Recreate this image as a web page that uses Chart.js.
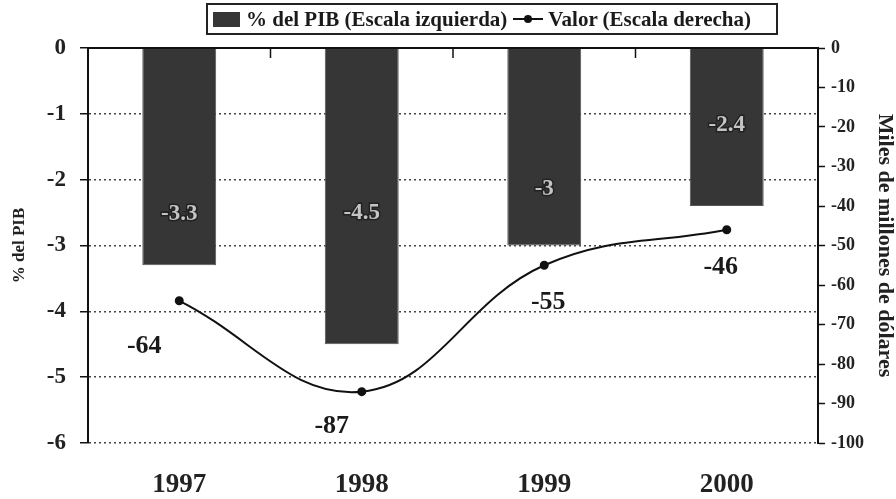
<!DOCTYPE html>
<html>
<head>
<meta charset="utf-8">
<script src="https://cdn.jsdelivr.net/npm/chart.js@4"></script>
<style>
  body { margin: 0; background: #fff; }
  #wrap { position: relative; width: 896px; height: 499px; }
  #legend {
    position: absolute; left: 206px; top: 3px; width: 572px; height: 32px;
    box-sizing: border-box; border: 2px solid #222; padding-left: 5px;
    display: flex; align-items: center; justify-content: flex-start;
    font: bold 21px "Liberation Serif", serif; color: #1a1a1a; white-space: nowrap;
  }
  .sq { display: inline-block; width: 27px; height: 15px; background: #363636; margin-right: 6px; }
  .ln { display: inline-block; width: 30px; height: 10px; margin: 0 5px 0 6px; position: relative; }
  .ln:before { content: ""; position: absolute; left: 0; right: 0; top: 4px; height: 2px; background: #111; }
  .ln:after { content: ""; position: absolute; left: 11px; top: 1px; width: 8px; height: 8px; border-radius: 50%; background: #111; }
</style>
</head>
<body>
<div id="wrap">
  <canvas id="chart" width="896" height="499"></canvas>
  <div id="legend"><span class="sq"></span>% del PIB (Escala izquierda)<span class="ln"></span>Valor (Escala derecha)</div>
</div>
<script>
// datos
const years = ["1997", "1998", "1999", "2000"];
const pibPct = [-3.3, -4.5, -3, -2.4];       // % del PIB, escala izquierda
const valor = [-64, -87, -55, -46];          // miles de millones, escala derecha
const leftTicks = [0, -1, -2, -3, -4, -5, -6];
const rightTicks = [0, -10, -20, -30, -40, -50, -60, -70, -80, -90, -100];

const serif = "'Liberation Serif', 'Times New Roman', serif";

// etiquetas y detalles que Chart.js no dibuja solo
const extras = {
  id: "extras",
  afterDatasetsDraw(chart) {
    const ctx = chart.ctx;
    const y = chart.scales.y;
    const x = chart.scales.x;
    const area = chart.chartArea;

    // linea superior solida y marcas de categoria
    ctx.save();
    ctx.strokeStyle = "#111";
    ctx.lineWidth = 2;
    ctx.beginPath();
    ctx.moveTo(area.left, y.getPixelForValue(0));
    ctx.lineTo(area.right, y.getPixelForValue(0));
    ctx.stroke();
    ctx.lineWidth = 1.5;
    for (let i = 0; i < years.length - 1; i++) {
      const px = (x.getPixelForValue(i) + x.getPixelForValue(i + 1)) / 2;
      ctx.beginPath();
      ctx.moveTo(px, area.top);
      ctx.lineTo(px, area.top + 10);
      ctx.stroke();
    }

    // valores dentro de las barras (altura en unidades de la escala izq.)
    const barLabelAt = [-2.52, -2.51, -2.14, -1.17];
    ctx.font = "bold 23px " + serif;
    ctx.textAlign = "center";
    ctx.textBaseline = "middle";
    chart.getDatasetMeta(0).data.forEach(function (bar, i) {
      const py = y.getPixelForValue(barLabelAt[i]);
      ctx.lineWidth = 3;
      ctx.strokeStyle = "#222";
      ctx.strokeText(String(pibPct[i]), bar.x, py);
      ctx.fillStyle = "#c4c4c4";
      ctx.fillText(String(pibPct[i]), bar.x, py);
    });

    // valores de la linea
    const lineOffset = [[-35, 45], [-30, 35], [4, 37], [-6, 38]];
    ctx.font = "bold 26px " + serif;
    ctx.fillStyle = "#1a1a1a";
    chart.getDatasetMeta(1).data.forEach(function (pt, i) {
      ctx.fillText(String(valor[i]), pt.x + lineOffset[i][0], pt.y + lineOffset[i][1]);
    });
    ctx.restore();
  }
};

new Chart(document.getElementById("chart"), {
  type: "bar",
  data: {
    labels: years,
    datasets: [
      {
        label: "% del PIB (Escala izquierda)",
        data: pibPct,
        yAxisID: "y",
        backgroundColor: "#363636",
        borderColor: "#555",
        borderWidth: 1,
        barPercentage: 0.405,
        categoryPercentage: 1,
        order: 2,
      },
      {
        type: "line",
        label: "Valor (Escala derecha)",
        data: valor,
        yAxisID: "y1",
        borderColor: "#111",
        borderWidth: 2,
        pointRadius: 3.5,
        pointBackgroundColor: "#111",
        pointBorderColor: "#111",
        tension: 0.4,
        order: 1,
      },
    ],
  },
  options: {
    responsive: false,
    animation: false,
    layout: { padding: { top: 48, left: 0, right: 0, bottom: 0 } },
    plugins: { legend: { display: false }, tooltip: { enabled: false } },
    scales: {
      x: {
        grid: { display: false },
        border: { display: false },
        ticks: { color: "#222", font: { family: serif, size: 27, weight: "bold" }, padding: 18 },
        afterFit(s) { s.height = 56; },
      },
      y: {
        position: "left",
        min: -6, max: 0,
        afterBuildTicks(s) { s.ticks = leftTicks.map(function (v) { return { value: v }; }); },
        ticks: { color: "#222", font: { family: serif, size: 23, weight: "bold" }, padding: 14 },
        grid: { color: "#444", lineWidth: 1.5, tickLength: 8, tickColor: "#111", tickWidth: 1.5 },
        border: { display: true, color: "#111", width: 2, dash: [2, 3] },
        title: { display: true, text: "% del PIB", color: "#222", font: { family: serif, size: 17, weight: "bold", lineHeight: 1 }, padding: { top: 11, bottom: 0 } },
        afterFit(s) { s.width = 88; },
      },
      y1: {
        position: "right",
        min: -100, max: 0,
        afterBuildTicks(s) { s.ticks = rightTicks.map(function (v) { return { value: v }; }); },
        ticks: { color: "#222", font: { family: serif, size: 18, weight: "bold" }, padding: 6 },
        grid: { drawOnChartArea: false, tickLength: 7, tickColor: "#111", tickWidth: 1.5 },
        border: { display: true, color: "#111", width: 2 },
        title: { display: true, text: "Miles de millones de dólares", color: "#222", font: { family: serif, size: 22, weight: "bold", lineHeight: 1 }, padding: 0 },
        afterFit(s) { s.width = 78; },
      },
    },
  },
  plugins: [extras],
});
</script>
</body>
</html>
